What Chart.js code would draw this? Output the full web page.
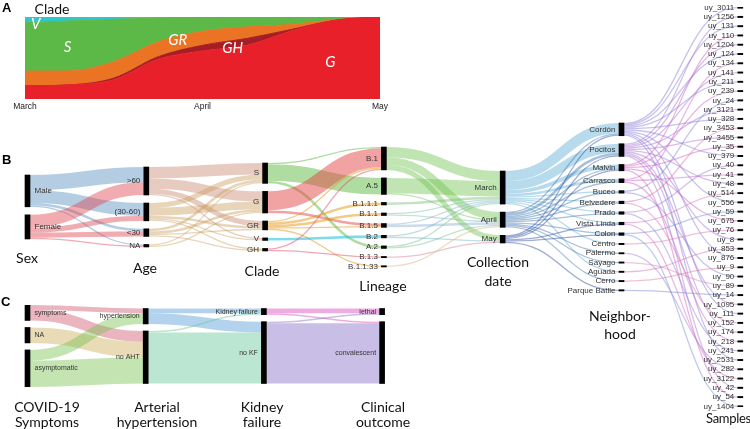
<!DOCTYPE html>
<html>
<head>
<meta charset="utf-8">
<script src="https://cdn.jsdelivr.net/npm/chart.js@4.4.0/dist/chart.umd.min.js"></script>
<style>
  body { margin: 0; background: #fff; }
  #wrap { position: relative; width: 750px; height: 429px; overflow: hidden; font-family: Lato, 'Open Sans', sans-serif; }
  canvas { position: absolute; }
  .t { position: absolute; transform: translate(-50%, -50%); white-space: nowrap; text-align: center; font-size: 14px; line-height: 17px; color: #111; }
  .p { position: absolute; font: bold 13px 'Liberation Sans', Arial, sans-serif; color: #000; line-height: 13px; }
</style>
</head>
<body>
<div id="wrap">
  <canvas id="chartA" width="400" height="115" style="left:0;top:0"></canvas>
  <canvas id="chartB" width="750" height="429" style="left:0;top:0"></canvas>
  <canvas id="chartC" width="400" height="110" style="left:0;top:290px"></canvas>

  <div class="p" style="left:2px;top:1px">A</div>
  <div class="p" style="left:2px;top:153px">B</div>
  <div class="p" style="left:1px;top:295px">C</div>

  <div class="t" style="left:52px;top:8px">Clade</div>

  <div class="t" style="left:27px;top:257px">Sex</div>
  <div class="t" style="left:145px;top:267px">Age</div>
  <div class="t" style="left:262px;top:270px">Clade</div>
  <div class="t" style="left:383px;top:285px">Lineage</div>
  <div class="t" style="left:498px;top:271px;line-height:19px">Collection<br>date</div>
  <div class="t" style="left:620px;top:325px;line-height:18px">Neighbor-<br>hood</div>
  <div class="t" style="left:706px;top:418px;transform:translate(0,-50%);font-size:13px;letter-spacing:-0.3px">Samples</div>

  <div class="t" style="left:47px;top:414px;line-height:15px">COVID-19<br>Symptoms</div>
  <div class="t" style="left:157px;top:414px;line-height:15px">Arterial<br>hypertension</div>
  <div class="t" style="left:262px;top:414px;line-height:15px">Kidney<br>failure</div>
  <div class="t" style="left:383px;top:414px;line-height:15px">Clinical<br>outcome</div>
</div>

<script>
// ---- A: clade share over time (percent)
const timeTicks = ['March', 'April', 'May'];
const cladeTimes = [0, 0.25, 0.5, 0.75, 1, 1.25, 1.5, 1.75, 2];
const cladeG  = [16, 17.2, 23.5, 48.4, 58.5, 65.4, 82.8, 96.1, 100];
const cladeGH = [0, 0, 2, 3.2, 7, 8.5, 2, 0, 0];
const cladeGR = [18, 17, 20, 18.2, 17, 14, 6, 0.8, 0];
const cladeS  = [59, 61, 51.7, 29, 17.5, 12.1, 9.2, 3.1, 0];
const cladeV  = [7, 4.8, 2.8, 1.2, 0, 0, 0, 0, 0];

// ---- B: sample flows
const sexNodes = ['Male', 'Female'];
const ageNodes = ['>60', '(30-60)', '<30', 'NA'];
const cladeNodes = ['S', 'G', 'GR', 'V', 'GH'];
const lineageNodes = ['B.1', 'A.5', 'B.1.1.1', 'B.1.1', 'B.1.5', 'B.2', 'A.2', 'B.1.3', 'B.1.1.33'];
const dateNodes = ['March', 'April', 'May'];
const hoodNodes = ['Cordón', 'Pocitos', 'Malvin', 'Carrasco', 'Buceo', 'Belvedere', 'Prado', 'Vista Linda',
  'Colon', 'Centro', 'Palermo', 'Sayago', 'Aguada', 'Cerro', 'Parque Batlle'];
const sampleNodes = ['uy_3011', 'uy_1256', 'uy_131', 'uy_110', 'uy_1204', 'uy_124', 'uy_134', 'uy_141', 'uy_211',
  'uy_239', 'uy_24', 'uy_3121', 'uy_328', 'uy_3453', 'uy_3455', 'uy_35', 'uy_379', 'uy_40', 'uy_41', 'uy_48',
  'uy_514', 'uy_556', 'uy_59', 'uy_675', 'uy_76', 'uy_8', 'uy_853', 'uy_876', 'uy_9', 'uy_90', 'uy_89', 'uy_14',
  'uy_1095', 'uy_111', 'uy_152', 'uy_174', 'uy_218', 'uy_241', 'uy_2531', 'uy_282', 'uy_3122', 'uy_42', 'uy_54',
  'uy_1404'];

const sexToAge = [[12, 10, 2, 1], [10, 4, 4, 1]];
const ageToClade = [[9, 8, 4, 1, 0], [4, 6, 2, 1, 1], [2, 2, 1, 0, 1], [1, 1, 0, 0, 0]];
const cladeToLineage = [
  [1, 13, 0, 0, 0, 0, 2, 0, 0],
  [15, 0, 0, 0, 2, 0, 0, 0, 0],
  [1, 0, 2, 2, 1, 0, 0, 0, 1],
  [0, 0, 0, 0, 0, 2, 0, 0, 0],
  [1, 0, 0, 0, 0, 0, 0, 1, 0]
];
const lineageToDate = [[8, 6, 4], [12, 1, 0], [2, 0, 0], [1, 1, 0], [1, 2, 0], [1, 0, 1], [1, 1, 0], [0, 0, 1], [0, 1, 0]];
const dateToHood = [
  [8, 7, 3, 2, 1, 1, 1, 1, 0, 1, 0, 0, 1, 0, 0],
  [1, 2, 1, 1, 1, 1, 1, 0, 1, 0, 1, 1, 0, 1, 0],
  [1, 1, 1, 0, 0, 0, 0, 1, 1, 0, 0, 0, 0, 0, 1]
];
// neighbourhood index of each sample, in sample order
const sampleHood = [0, 1, 0, 2, 1, 0, 3, 1, 0, 2, 4, 1, 0, 5, 1, 2, 0, 6, 3, 1, 7, 0, 8, 2, 9, 1, 12, 0, 13, 4,
  11, 14, 1, 0, 5, 1, 3, 6, 0, 10, 7, 1, 2, 8];

// ---- C: clinical flows
const symptomNodes = ['symptoms', 'NA', 'asymptomatic'];
const htNodes = ['hypertension', 'no AHT'];
const kfNodes = ['Kidney failure', 'no KF'];
const outcomeNodes = ['lethal', 'convalescent'];
const symptomToHt = [[3, 7], [0, 10], [7, 17]];
const htToKf = [[3, 7], [1, 33]];
const kfToOutcome = [[3, 1], [1, 39]];

// ---- link colours, per source node
const linkColorsB = [
  ['rgba(105,155,200,0.5)', 'rgba(222,72,82,0.45)'],
  ['rgba(205,140,115,0.45)', 'rgba(205,160,100,0.45)', 'rgba(205,160,100,0.45)', 'rgba(205,165,105,0.45)'],
  ['rgba(95,185,65,0.5)', 'rgba(228,70,70,0.5)', 'rgba(232,150,20,0.5)', 'rgba(40,195,220,0.6)', 'rgba(225,80,100,0.5)'],
  ['rgba(115,195,85,0.45)', 'rgba(115,195,85,0.45)', 'rgba(120,190,120,0.45)', 'rgba(120,190,170,0.45)',
   'rgba(140,175,210,0.45)', 'rgba(110,180,200,0.45)', 'rgba(120,190,140,0.45)', 'rgba(215,120,140,0.45)', 'rgba(210,180,120,0.45)'],
  ['rgba(95,175,215,0.45)', 'rgba(60,115,175,0.45)', 'rgba(40,70,160,0.45)'],
  ['rgba(130,120,215,0.45)', 'rgba(160,110,210,0.45)', 'rgba(210,90,190,0.45)', 'rgba(200,100,200,0.45)',
   'rgba(120,130,210,0.45)', 'rgba(215,110,170,0.45)', 'rgba(150,120,215,0.45)', 'rgba(210,100,180,0.45)',
   'rgba(110,140,210,0.45)', 'rgba(215,120,170,0.45)', 'rgba(160,120,215,0.45)', 'rgba(215,130,180,0.45)',
   'rgba(200,110,180,0.45)', 'rgba(215,120,160,0.45)', 'rgba(110,130,210,0.45)']
];
const linkColorsC = [
  ['rgba(210,90,115,0.45)', 'rgba(205,175,90,0.45)', 'rgba(125,195,85,0.45)'],
  ['rgba(85,155,215,0.45)', 'rgba(105,200,155,0.45)'],
  ['rgba(220,70,190,0.45)', 'rgba(145,125,205,0.5)']
];

const sum = a => a.reduce((s, v) => s + v, 0);

function layoutSankey(columns, flows, pad) {
  const values = columns.map((names, c) => names.map((_, i) => {
    const out = c < flows.length ? sum(flows[c][i]) : 0;
    const inn = c > 0 ? sum(flows[c - 1].map(row => row[i])) : 0;
    return Math.max(out, inn);
  }));
  const extents = values.map(v => sum(v) + (v.length - 1) * pad);
  const total = Math.max(...extents);
  const nodes = values.map((v, c) => {
    let y = (total - extents[c]) / 2;
    return v.map((val, i) => {
      const n = { col: c, label: columns[c][i], y0: y, y1: y + val };
      y += val + pad;
      return n;
    });
  });
  const links = [];
  flows.forEach((m, c) => {
    const outOff = nodes[c].map(n => n.y0);
    const inOff = nodes[c + 1].map(n => n.y0);
    m.forEach((row, i) => row.forEach((v, j) => {
      if (!v) return;
      links.push({ col: c, src: i, v, y0: outOff[i] + v / 2, y1: inOff[j] + v / 2 });
      outOff[i] += v;
      inOff[j] += v;
    }));
  });
  return { nodes, links, total };
}

function sankeyPlugin(sk, colors, font) {
  return {
    id: 'sankeyRibbons',
    beforeDatasetsDraw(chart) {
      const { ctx, scales: { x, y } } = chart;
      ctx.save();
      sk.links.forEach(l => {
        const x0 = x.getPixelForValue(l.col) + 2.5;
        const x1 = x.getPixelForValue(l.col + 1) - 2.5;
        const y0 = y.getPixelForValue(l.y0);
        const y1 = y.getPixelForValue(l.y1);
        const w = Math.abs(y.getPixelForValue(l.v) - y.getPixelForValue(0));
        const xm = (x0 + x1) / 2;
        ctx.strokeStyle = colors[l.col][l.src];
        ctx.lineWidth = Math.max(1, w);
        ctx.beginPath();
        ctx.moveTo(x0, y0);
        ctx.bezierCurveTo(xm, y0, xm, y1, x1, y1);
        ctx.stroke();
      });
      ctx.restore();
    },
    afterDatasetsDraw(chart) {
      const { ctx, scales: { x, y } } = chart;
      ctx.save();
      ctx.font = font;
      ctx.fillStyle = '#333';
      ctx.textBaseline = 'middle';
      sk.nodes.flat().forEach(n => {
        const px = x.getPixelForValue(n.col);
        const py = y.getPixelForValue((n.y0 + n.y1) / 2);
        if (n.col === 0) {
          ctx.textAlign = 'left';
          ctx.fillText(n.label, px + 7, py);
        } else {
          ctx.textAlign = 'right';
          ctx.fillText(n.label, px - 6, py);
        }
      });
      ctx.restore();
    }
  };
}

function sankeyChart(id, sk, colors, opt) {
  const bars = sk.nodes.flat().map(n => ({ x: n.col, y: [n.y0, n.y1] }));
  const min = -opt.first / opt.step;
  return new Chart(document.getElementById(id), {
    type: 'bar',
    data: { datasets: [{ data: bars, backgroundColor: '#000', barThickness: 5, minBarLength: 1 }] },
    options: {
      responsive: false,
      animation: false,
      events: [],
      layout: { padding: opt.padding },
      plugins: { legend: { display: false }, tooltip: { enabled: false } },
      scales: {
        x: { type: 'linear', display: false, offset: false, min, max: min + opt.width / opt.step },
        y: { display: false, reverse: true, min: 0, max: sk.total }
      }
    },
    plugins: [sankeyPlugin(sk, colors, opt.font)]
  });
}

// ---- chart A
const areaLabels = {
  id: 'areaLabels',
  afterDatasetsDraw(chart) {
    const { ctx, scales: { x, y } } = chart;
    ctx.save();
    ctx.fillStyle = '#fff';
    ctx.font = 'italic 15px Lato';
    ctx.textAlign = 'center';
    ctx.textBaseline = 'middle';
    [['V', 0.06, 91], ['S', 0.24, 63], ['GR', 0.86, 72], ['GH', 1.17, 62], ['G', 1.72, 45]]
      .forEach(([s, t, v]) => ctx.fillText(s, x.getPixelForValue(t), y.getPixelForValue(v)));
    ctx.restore();
  }
};

const pts = arr => cladeTimes.map((t, i) => ({ x: t, y: arr[i] }));
const area = (label, arr, color, fill) => ({
  label, data: pts(arr), backgroundColor: color, borderColor: color, borderWidth: 1,
  fill, pointRadius: 0, cubicInterpolationMode: 'monotone'
});

new Chart(document.getElementById('chartA'), {
  type: 'line',
  data: {
    datasets: [
      area('G', cladeG, '#e8202a', 'origin'),
      area('GH', cladeGH, '#a61e25', '-1'),
      area('GR', cladeGR, '#ea7424', '-1'),
      area('S', cladeS, '#5cb947', '-1'),
      area('V', cladeV, '#2ec8ca', '-1')
    ]
  },
  options: {
    responsive: false,
    animation: false,
    events: [],
    layout: { padding: { left: 25, right: 20, top: 17, bottom: 2 } },
    plugins: { legend: { display: false }, tooltip: { enabled: false } },
    scales: {
      x: {
        type: 'linear', min: 0, max: 2,
        grid: { display: false, drawTicks: false }, border: { display: false },
        ticks: { stepSize: 1, padding: 3, maxRotation: 0, minRotation: 0, color: '#222',
                 font: { size: 8.5, family: 'Liberation Sans' }, callback: v => timeTicks[v] },
        afterFit: s => { s.height = 14; }
      },
      y: { stacked: true, min: 0, max: 100, display: false }
    }
  },
  plugins: [areaLabels]
});

// ---- chart B
const hoodToSample = hoodNodes.map((_, h) => sampleNodes.map((_, s) => (sampleHood[s] === h ? 1 : 0)));
const skB = layoutSankey(
  [sexNodes, ageNodes, cladeNodes, lineageNodes, dateNodes, hoodNodes, sampleNodes],
  [sexToAge, ageToClade, cladeToLineage, lineageToDate, dateToHood, hoodToSample],
  6.29
);
sankeyChart('chartB', skB, linkColorsB, {
  first: 27.5, step: 118.8, width: 750,
  padding: { top: 7, bottom: 22, left: 0, right: 0 },
  font: '8px "Liberation Sans", Arial'
});

// ---- chart C
const skC = layoutSankey(
  [symptomNodes, htNodes, kfNodes, outcomeNodes],
  [symptomToHt, htToKf, kfToOutcome],
  4.53
);
sankeyChart('chartC', skC, linkColorsC, {
  first: 27.5, step: 118.2, width: 400,
  padding: { top: 15, bottom: 13, left: 0, right: 0 },
  font: '7px "Liberation Sans", Arial'
});
</script>
</body>
</html>
